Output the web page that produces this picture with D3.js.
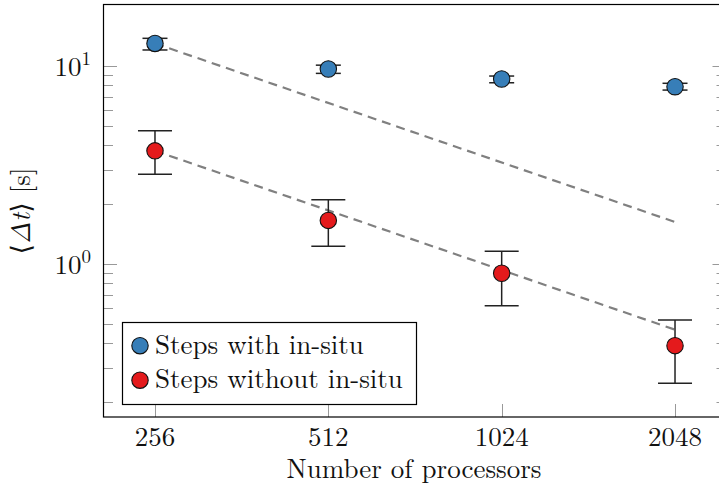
<!DOCTYPE html>
<html>
<head>
<meta charset="utf-8">
<script src="https://cdn.jsdelivr.net/npm/d3@7"></script>
<style>
  body { margin: 0; background: #fff; }
  svg { display: block; font-family: "Latin Modern Roman", "DejaVu Serif", serif; }
</style>
</head>
<body>
<svg width="719" height="488"></svg>
<script>
// data
var procs = [256, 512, 1024, 2048];
var withMean = [13.0, 9.66, 8.6, 7.86];
var withLo = [12.05, 9.18, 8.23, 7.56];
var withHi = [13.8, 10.1, 8.9, 8.18];
var withoutMean = [3.73, 1.66, 0.898, 0.387];
var withoutLo = [2.84, 1.23, 0.616, 0.25];
var withoutHi = [4.71, 2.11, 1.16, 0.522];
// ideal scaling lines (end points)
var idealProcs = [256, 2048];
var idealWith = [13.0, 1.63];
var idealWithout = [3.73, 0.466];
var majorTicks = [1, 10];
var minorTicks = [0.2, 0.3, 0.4, 0.5, 0.6, 0.7, 0.8, 0.9, 2, 3, 4, 5, 6, 7, 8, 9];
var legendNames = ["Steps with in-situ", "Steps without in-situ"];
var colors = ["#377eb8", "#e41a1c"];

var svg = d3.select("svg");
var pLeft = 103.5, pRight = 726.5, pTop = 4.5, pBottom = 417;

var x = d3.scaleLog().base(2)
    .domain([256 / Math.pow(2, 0.297), 2048 * Math.pow(2, 0.297)])
    .range([pLeft, pRight]);
var y = d3.scaleLog()
    .domain([0.1688, 20.45])
    .range([pBottom, pTop]);

// ticks (gray, inward, mirrored on the right)
var tk = svg.append("g").attr("stroke", "#999").attr("stroke-width", 1);
minorTicks.forEach(function(v) {
    var yy = Math.round(y(v)) + 0.5;
    tk.append("line").attr("x1", pLeft).attr("x2", pLeft + 9.5).attr("y1", yy).attr("y2", yy);
    tk.append("line").attr("x1", pRight - 10).attr("x2", pRight).attr("y1", yy).attr("y2", yy);
});
majorTicks.forEach(function(v) {
    var yy = Math.round(y(v)) + 0.5;
    tk.append("line").attr("x1", pLeft).attr("x2", pLeft + 13.5).attr("y1", yy).attr("y2", yy);
    tk.append("line").attr("x1", pRight - 14).attr("x2", pRight).attr("y1", yy).attr("y2", yy);
});
procs.forEach(function(p) {
    var xx = Math.round(x(p)) + 0.5;
    tk.append("line").attr("x1", xx).attr("x2", xx).attr("y1", pBottom).attr("y2", pBottom - 13);
});

// frame
svg.append("rect")
    .attr("x", pLeft).attr("y", pTop)
    .attr("width", pRight - pLeft).attr("height", pBottom - pTop)
    .attr("fill", "none").attr("stroke", "#000").attr("stroke-width", 1.2);

// y tick labels 10^0, 10^1
majorTicks.forEach(function(v) {
    var t = svg.append("text")
        .attr("x", 91).attr("y", y(v) + 10)
        .attr("text-anchor", "end")
        .attr("font-size", 27).attr("fill", "#111");
    t.append("tspan").text("10");
    t.append("tspan").attr("dy", -11).attr("font-size", 19).text(Math.round(Math.log10(v)));
});

// x tick labels
svg.append("g").selectAll("text")
    .data(procs)
    .enter()
    .append("text")
    .attr("x", function(d) { return x(d); })
    .attr("y", 446)
    .attr("text-anchor", "middle")
    .attr("font-size", 27).attr("fill", "#111")
    .text(function(d) { return d; });

svg.append("text")
    .attr("x", 414).attr("y", 478)
    .attr("text-anchor", "middle")
    .attr("font-size", 27).attr("fill", "#111")
    .text("Number of processors");

// y label
var yl = svg.append("text")
    .attr("transform", "translate(30,211) rotate(-90)")
    .attr("text-anchor", "middle")
    .attr("font-size", 27).attr("fill", "#111");
yl.append("tspan").text("\u27E8");
yl.append("tspan").attr("font-style", "italic").text("\u0394t");
yl.append("tspan").text("\u27E9 [s]");

// ideal dashed lines
var line = d3.line()
    .x(function(d) { return x(d[0]); })
    .y(function(d) { return y(d[1]); });
[idealWith, idealWithout].forEach(function(vals) {
    svg.append("path")
        .attr("d", line(d3.zip(idealProcs, vals)))
        .attr("fill", "none")
        .attr("stroke", "#808080")
        .attr("stroke-width", 2.2)
        .attr("stroke-dasharray", "9,6");
});

// error bars and markers
var series = [
    { mean: withMean, lo: withLo, hi: withHi, cap: 12.5 },
    { mean: withoutMean, lo: withoutLo, hi: withoutHi, cap: 17 }
];
series.forEach(function(s, i) {
    var g = svg.append("g");
    var eb = g.append("g").attr("stroke", "#222").attr("stroke-width", 1.5);
    procs.forEach(function(p, j) {
        var xx = x(p);
        eb.append("line").attr("x1", xx).attr("x2", xx).attr("y1", y(s.lo[j])).attr("y2", y(s.hi[j]));
        eb.append("line").attr("x1", xx - s.cap).attr("x2", xx + s.cap).attr("y1", y(s.lo[j])).attr("y2", y(s.lo[j]));
        eb.append("line").attr("x1", xx - s.cap).attr("x2", xx + s.cap).attr("y1", y(s.hi[j])).attr("y2", y(s.hi[j]));
    });
    g.selectAll("circle")
        .data(procs)
        .enter()
        .append("circle")
        .attr("cx", function(d) { return x(d); })
        .attr("cy", function(d, j) { return y(s.mean[j]); })
        .attr("r", 8.2)
        .attr("fill", colors[i])
        .attr("stroke", "#111")
        .attr("stroke-width", 1.1);
});

// legend
var lg = svg.append("g");
lg.append("rect")
    .attr("x", 122.5).attr("y", 322.5)
    .attr("width", 294).attr("height", 82)
    .attr("fill", "#fff").attr("stroke", "#000").attr("stroke-width", 1.2);
legendNames.forEach(function(name, i) {
    var cy = 345.7 + i * 34.5;
    lg.append("circle")
        .attr("cx", 140).attr("cy", cy).attr("r", 8.2)
        .attr("fill", colors[i]).attr("stroke", "#111").attr("stroke-width", 1.1);
    lg.append("text")
        .attr("x", 155).attr("y", cy + 8)
        .attr("font-size", 27).attr("fill", "#111")
        .text(name);
});
</script>
</body>
</html>
